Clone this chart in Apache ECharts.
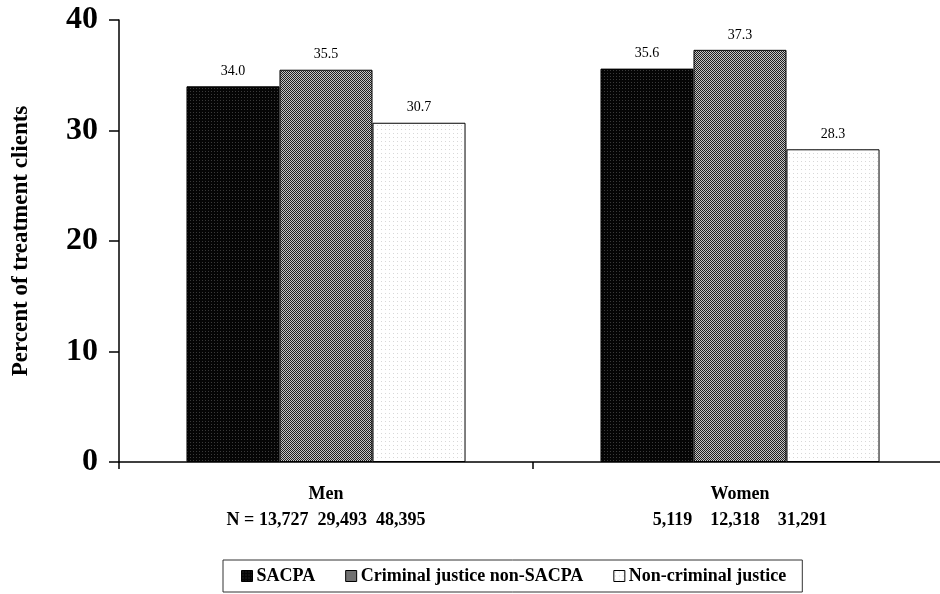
<!DOCTYPE html>
<html>
<head>
<meta charset="utf-8">
<script src="https://cdn.jsdelivr.net/npm/echarts@6/dist/echarts.min.js"></script>
<style>html,body{margin:0;padding:0;background:#fff}#c{width:940px;height:594px}</style>
</head>
<body>
<div id="c"></div>
<script>
var categories = ['Men', 'Women'];
var sampleSizes = ['N = 13,727  29,493  48,395', '5,119    12,318    31,291'];
var seriesNames = ['SACPA', 'Criminal justice non-SACPA', 'Non-criminal justice'];
var sacpa = [34.0, 35.6];
var criminalNonSacpa = [35.5, 37.3];
var nonCriminal = [30.7, 28.3];
var yTicks = [0, 10, 20, 30, 40];

function makePattern(size, bg, fg, pts) {
  var c = document.createElement('canvas');
  c.width = size; c.height = size;
  var g = c.getContext('2d');
  g.fillStyle = bg; g.fillRect(0, 0, size, size);
  g.fillStyle = fg;
  pts.forEach(function (p) { g.fillRect(p[0], p[1], 1, 1); });
  return { image: c, repeat: 'repeat' };
}
var patBlack = makePattern(3, '#050505', '#3a3a3a', [[1, 1]]);
var patChecker = makePattern(2, '#c4c4c4', '#1e1e1e', [[0, 0], [1, 1]]);
var patLight = makePattern(4, '#ffffff', '#d8d8d8', [[1, 1]]);
var patterns = [patBlack, patChecker, patLight];
var dataSets = [sacpa, criminalNonSacpa, nonCriminal];

var serif = '"Liberation Serif", "Times New Roman", serif';
var chart = echarts.init(document.getElementById('c'), null, { renderer: 'canvas' });

var series = seriesNames.map(function (name, i) {
  return {
    name: name,
    type: 'bar',
    data: dataSets[i],
    barGap: '0%',
    barCategoryGap: '32.6%',
    itemStyle: { color: patterns[i], borderColor: '#000', borderWidth: 1 },
    label: {
      show: true, position: 'top', distance: 8,
      formatter: function (p) { return p.value.toFixed(1); },
      fontFamily: serif, fontSize: 14, color: '#000'
    },
    emphasis: { disabled: true }
  };
});

chart.setOption({
  animation: false,
  backgroundColor: '#fff',
  grid: { left: 119, top: 20, bottom: 132, width: 828, containLabel: false, outerBoundsMode: 'none' },
  legend: {
    data: seriesNames,
    left: 223, top: 560,
    padding: [7, 16, 7, 18],
    itemGap: 30,
    itemWidth: 11, itemHeight: 11,
    borderColor: '#333', borderWidth: 1,
    icon: 'rect',
    itemStyle: { borderColor: '#000', borderWidth: 1 },
    textStyle: { fontFamily: serif, fontSize: 18, fontWeight: 'bold', color: '#000', padding: [0, 0, 0, -1] }
  },
  xAxis: {
    type: 'category',
    data: categories,
    axisLine: { lineStyle: { color: '#000', width: 1.5 } },
    axisTick: { show: true, alignWithLabel: false, length: 7, lineStyle: { color: '#000', width: 1.5 } },
    axisLabel: {
      margin: 19,
      formatter: function (v, i) { return '{a|' + v + '}\n{b|' + sampleSizes[i] + '}'; },
      rich: {
        a: { fontFamily: serif, fontSize: 18, fontWeight: 'bold', color: '#000', lineHeight: 26 },
        b: { fontFamily: serif, fontSize: 18, fontWeight: 'bold', color: '#000', lineHeight: 26 }
      }
    }
  },
  yAxis: {
    type: 'value',
    min: yTicks[0], max: yTicks[yTicks.length - 1], interval: 10,
    name: 'Percent of treatment clients',
    nameLocation: 'middle',
    nameGap: 86,
    nameTextStyle: { fontFamily: serif, fontSize: 23, fontWeight: 'bold', color: '#000' },
    axisLine: { show: true, lineStyle: { color: '#000', width: 1.5 } },
    axisTick: { show: true, length: 10, lineStyle: { color: '#000', width: 1.5 } },
    splitLine: { show: false },
    axisLabel: { fontFamily: serif, fontSize: 32, fontWeight: 'bold', color: '#000', margin: 21 }
  },
  series: series
});
</script>
</body>
</html>
